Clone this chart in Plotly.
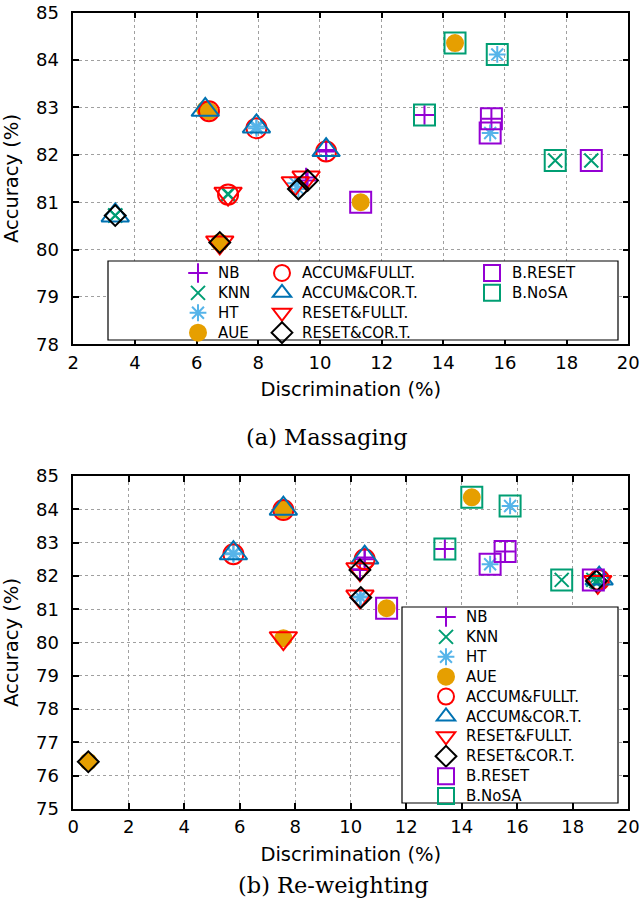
import plotly.graph_objects as go

# ---------------- data ----------------
classifiers = ["NB", "KNN", "HT", "AUE"]
methods = ["ACCUM&FULLT.", "ACCUM&COR.T.", "RESET&FULLT.", "RESET&COR.T.", "B.RESET", "B.NoSA"]

# (a) Massaging : values listed in the order of `methods`
nb_disc_a = [10.2, 10.2, 9.55, 9.6, 15.56, 13.39]
nb_acc_a = [82.07, 82.1, 81.52, 81.46, 82.76, 82.84]
knn_disc_a = [7.02, 3.36, 7.02, 3.36, 18.8, 17.63]
knn_acc_a = [81.16, 80.72, 81.18, 80.72, 81.88, 81.88]
ht_disc_a = [7.94, 7.94, 9.2, 9.3, 15.52, 15.75]
ht_acc_a = [82.56, 82.6, 81.4, 81.28, 82.46, 84.12]
aue_disc_a = [6.4, 6.28, 6.75, 6.75, 11.32, 14.38]
aue_acc_a = [82.92, 82.95, 80.15, 80.15, 81.0, 84.36]

# (b) Re-weighting
nb_disc_b = [10.5, 10.5, 10.33, 10.33, 15.56, 13.39]
nb_acc_b = [82.5, 82.55, 82.2, 82.18, 82.73, 82.81]
knn_disc_b = [18.95, 18.95, 18.9, 18.85, 18.74, 17.6]
knn_acc_b = [81.88, 81.92, 81.82, 81.85, 81.88, 81.88]
ht_disc_b = [5.77, 5.77, 10.33, 10.36, 15.02, 15.74]
ht_acc_b = [82.65, 82.68, 81.38, 81.35, 82.35, 84.1]
aue_disc_b = [7.57, 7.57, 7.57, 0.54, 11.29, 14.36]
aue_acc_b = [83.98, 84.02, 80.13, 76.42, 81.03, 84.36]

x_ticks_a = [2, 4, 6, 8, 10, 12, 14, 16, 18, 20]
y_ticks_a = [78, 79, 80, 81, 82, 83, 84, 85]
x_ticks_b = [0, 2, 4, 6, 8, 10, 12, 14, 16, 18, 20]
y_ticks_b = [75, 76, 77, 78, 79, 80, 81, 82, 83, 84, 85]

# ---------------- styles ----------------
cls_symbols = ["cross-thin-open", "x-thin-open", "asterisk-open", "circle"]
cls_colors = ["#9400d3", "#009e73", "#56b4e9", "#e69f00"]
cls_sizes = [14, 14, 14, 16]
met_symbols = ["circle-open", "triangle-up-open", "triangle-down-open",
               "diamond-open", "square-open", "square-open"]
met_colors = ["#ff0000", "#0072b2", "#ff0000", "#000000", "#9400d3", "#009e73"]
met_sizes = [20, 24, 24, 16, 21, 21]

FONT = "DejaVu Sans"
LEG_TXT = '<span style="font-size:15px">{}</span>'

fig = go.Figure()

panels = [
    ("x", "y", [(nb_disc_a, nb_acc_a), (knn_disc_a, knn_acc_a),
                (ht_disc_a, ht_acc_a), (aue_disc_a, aue_acc_a)]),
    ("x2", "y2", [(nb_disc_b, nb_acc_b), (knn_disc_b, knn_acc_b),
                  (ht_disc_b, ht_acc_b), (aue_disc_b, aue_acc_b)]),
]

for pi, (xa, ya, data) in enumerate(panels):
    # classifier markers (inner)
    for ci, name in enumerate(classifiers):
        xs, ys = data[ci]
        fig.add_trace(go.Scatter(
            x=xs, y=ys, mode="markers", name=LEG_TXT.format(name), xaxis=xa, yaxis=ya,
            legend="legend" if pi == 0 else "legend4",
            marker=dict(symbol=cls_symbols[ci], color=cls_colors[ci], size=cls_sizes[ci],
                        line=dict(width=2, color=cls_colors[ci]))))
    # method markers (outer)
    for mi, name in enumerate(methods):
        xs = [data[ci][0][mi] for ci in range(len(classifiers))]
        ys = [data[ci][1][mi] for ci in range(len(classifiers))]
        if pi == 0:
            lg = "legend2" if mi < 4 else "legend3"
        else:
            lg = "legend4"
        fig.add_trace(go.Scatter(
            x=xs, y=ys, mode="markers", name=LEG_TXT.format(name), xaxis=xa, yaxis=ya,
            legend=lg,
            marker=dict(symbol=met_symbols[mi], color=met_colors[mi], size=met_sizes[mi],
                        line=dict(width=2, color=met_colors[mi]))))

W, H = 640, 915


def fx(p):
    return p / W


def fy(p):
    return 1 - p / H


xdom = [fx(73.3), fx(628.3)]
ydom_a = [fy(344.3), fy(12.7)]
ydom_b = [fy(809), fy(476)]

axis_common = dict(
    showline=True, linecolor="black", linewidth=1.5, mirror="allticks",
    ticks="inside", ticklen=6, tickcolor="black", tickwidth=1.5,
    showgrid=True, gridcolor="#a0a0a0", griddash="dot", gridwidth=1,
    zeroline=False, automargin=False,
    tickfont=dict(family=FONT, size=18, color="black"),
)

fig.update_layout(
    width=W, height=H,
    margin=dict(l=0, r=0, t=0, b=0, pad=0, autoexpand=False),
    paper_bgcolor="white", plot_bgcolor="white",
    font=dict(family=FONT, color="black"),
    xaxis=dict(domain=xdom, anchor="y", range=[2, 20], tickvals=x_ticks_a,
               ticklabelstandoff=1,
               title=dict(text="Discrimination (%)", font=dict(size=19.5), standoff=11),
               **axis_common),
    yaxis=dict(domain=ydom_a, anchor="x", range=[78, 85], tickvals=y_ticks_a,
               ticklabelstandoff=9,
               title=dict(text="Accuracy (%)", font=dict(size=19.5), standoff=22),
               **axis_common),
    xaxis2=dict(domain=xdom, anchor="y2", range=[0, 20], tickvals=x_ticks_b,
                ticklabelstandoff=1,
                title=dict(text="Discrimination (%)", font=dict(size=19.5), standoff=11),
                **axis_common),
    yaxis2=dict(domain=ydom_b, anchor="x2", range=[75, 85], tickvals=y_ticks_b,
                ticklabelstandoff=9,
                title=dict(text="Accuracy (%)", font=dict(size=19.5), standoff=22),
                **axis_common),
)

leg_common = dict(bgcolor="rgba(0,0,0,0)", borderwidth=0, font=dict(family=FONT, size=13),
                  tracegroupgap=0, itemsizing="trace", yanchor="top", xanchor="left",
                  itemclick=False, itemdoubleclick=False)
fig.update_layout(
    legend=dict(x=fx(178), y=fy(258), **leg_common),
    legend2=dict(x=fx(262), y=fy(258), **leg_common),
    legend3=dict(x=fx(472), y=fy(258), **leg_common),
    legend4=dict(x=fx(426), y=fy(602), **leg_common),
)

# legend frames
fig.add_shape(type="rect", xref="paper", yref="paper",
              x0=fx(108), x1=fx(618), y0=fy(340), y1=fy(261),
              line=dict(color="black", width=1.2), fillcolor="white", layer="above")
fig.add_shape(type="rect", xref="paper", yref="paper",
              x0=fx(402), x1=fx(618), y0=fy(803), y1=fy(607),
              line=dict(color="black", width=1.2), fillcolor="white", layer="above")

# captions
fig.add_annotation(text="(a) Massaging", xref="paper", yref="paper",
                   x=fx(327), y=fy(437), showarrow=False,
                   font=dict(family="DejaVu Serif", size=22.5, color="black"))
fig.add_annotation(text="(b) Re-weighting", xref="paper", yref="paper",
                   x=fx(333), y=fy(900), showarrow=False,
                   font=dict(family="DejaVu Serif", size=22.5, color="black"))

# remove the browser's default page margin so the figure sits at the page origin
fig.write_html("out.html", config={"displayModeBar": False},
               post_script="document.body.style.margin='0';")
